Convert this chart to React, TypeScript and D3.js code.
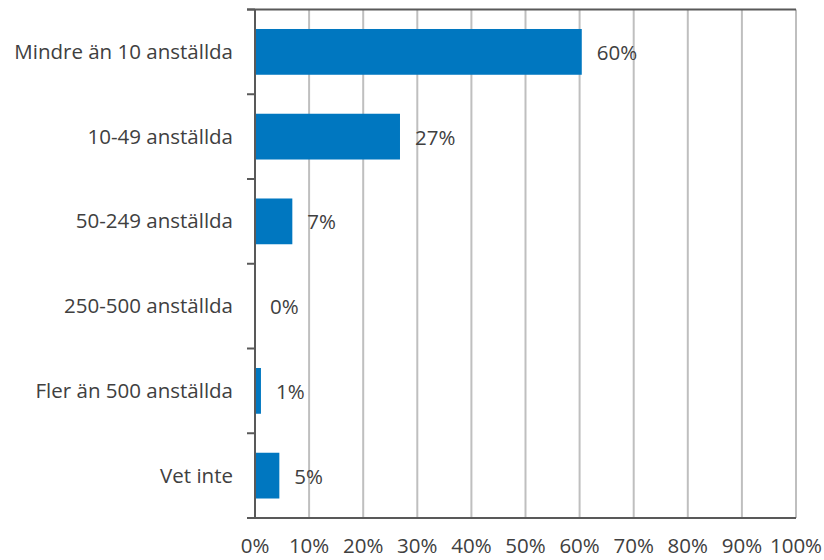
import React, { useRef, useEffect } from 'react';
import * as d3 from 'd3';

const categories = [
  'Mindre än 10 anställda',
  '10-49 anställda',
  '50-249 anställda',
  '250-500 anställda',
  'Fler än 500 anställda',
  'Vet inte',
];
const values = [60.4, 26.8, 6.9, 0, 1.1, 4.5];
const xTicks = [0, 10, 20, 30, 40, 50, 60, 70, 80, 90, 100];

const FONT = '"Open Sans", sans-serif';
const TEXT = '#404040';
const SIZE = '20.5px';

const App: React.FC = () => {
  const svgRef = useRef<SVGSVGElement | null>(null);

  useEffect(() => {
    if (!svgRef.current) return;
    const svg = d3.select(svgRef.current);
    svg.selectAll('*').remove();

    const width = 824;
    const height = 560;
    const margin = { top: 9.5, right: 28, bottom: 42, left: 255 };
    const innerHeight = height - margin.top - margin.bottom;

    const chart = svg.append('g').attr('transform', `translate(${margin.left},${margin.top})`);

    const x = d3.scaleLinear().domain([0, 100]).range([0, 541]);
    const y = d3.scaleBand().domain(categories).range([0, innerHeight]).paddingInner(0.46).paddingOuter(0.23);
    const band = innerHeight / categories.length;

    // Gridlines
    chart.append('g')
      .selectAll('line')
      .data(xTicks.slice(1))
      .join('line')
      .attr('x1', d => x(d))
      .attr('x2', d => x(d))
      .attr('y1', 0)
      .attr('y2', innerHeight)
      .attr('stroke', '#bfbfbf')
      .attr('stroke-width', 2);

    // Bars
    chart.append('g')
      .selectAll('rect')
      .data(categories)
      .join('rect')
      .attr('x', 0)
      .attr('y', d => y(d)!)
      .attr('width', (_, i) => x(values[i]))
      .attr('height', y.bandwidth())
      .attr('fill', '#0077c0');

    // Value labels
    chart.append('g')
      .selectAll('text')
      .data(categories)
      .join('text')
      .attr('x', (_, i) => x(values[i]) + 15)
      .attr('y', d => y(d)! + y.bandwidth() / 2 + 8)
      .text((_, i) => `${Math.round(values[i])}%`)
      .style('font-family', FONT)
      .style('font-size', SIZE)
      .style('fill', TEXT);

    // Top border
    chart.append('line')
      .attr('x1', -8).attr('x2', x(100))
      .attr('y1', 0).attr('y2', 0)
      .attr('stroke', '#595959').attr('stroke-width', 2);

    // Left axis with ticks between categories
    chart.append('line')
      .attr('x1', 0).attr('x2', 0)
      .attr('y1', 0).attr('y2', innerHeight)
      .attr('stroke', '#595959').attr('stroke-width', 2);
    chart.append('g')
      .selectAll('line')
      .data(d3.range(categories.length + 1))
      .join('line')
      .attr('x1', -8).attr('x2', 0)
      .attr('y1', i => i * band).attr('y2', i => i * band)
      .attr('stroke', '#595959').attr('stroke-width', 2);

    chart.append('g')
      .selectAll('text')
      .data(categories)
      .join('text')
      .attr('x', -22)
      .attr('y', d => y(d)! + y.bandwidth() / 2 + 7)
      .attr('text-anchor', 'end')
      .text(d => d)
      .style('font-family', FONT)
      .style('font-size', SIZE)
      .style('fill', TEXT);

    // Bottom axis
    chart.append('line')
      .attr('x1', 0).attr('x2', x(100))
      .attr('y1', innerHeight).attr('y2', innerHeight)
      .attr('stroke', '#595959').attr('stroke-width', 2);
    chart.append('g')
      .selectAll('text')
      .data(xTicks)
      .join('text')
      .attr('x', d => x(d))
      .attr('y', innerHeight + 35)
      .attr('text-anchor', 'middle')
      .text(d => `${d}%`)
      .style('font-family', FONT)
      .style('font-size', SIZE)
      .style('fill', TEXT);
  }, []);

  return (
    <svg
      ref={svgRef}
      width={824}
      height={560}
      style={{ position: 'absolute', left: 0, top: 0, background: '#fff' }}
    />
  );
};

export default App;
